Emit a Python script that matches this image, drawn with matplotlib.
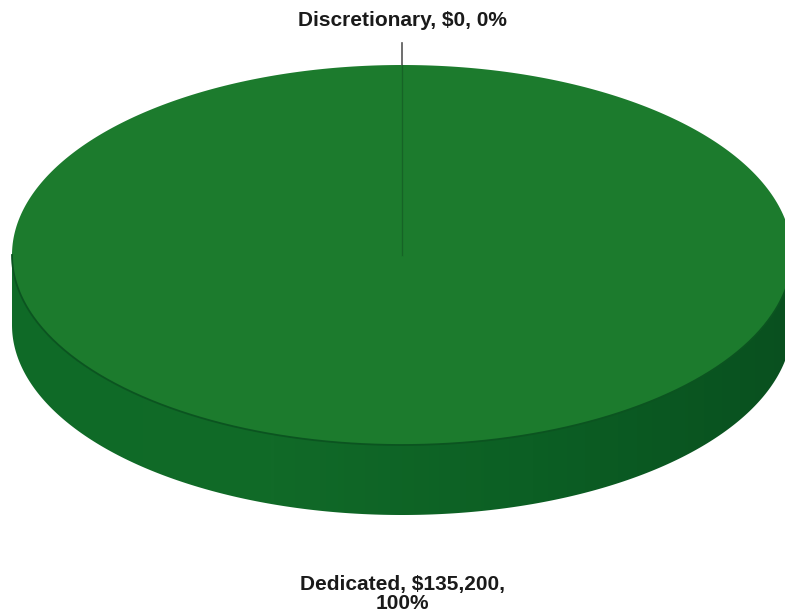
import textwrap
import numpy as np
import matplotlib
matplotlib.use("Agg")
from matplotlib import pyplot as plt
from matplotlib.patches import Polygon
from matplotlib.colors import LinearSegmentedColormap

names = ["Discretionary", "Dedicated"]
values = [0, 135200]
top_colors = ["#1f7d2e", "#1c7b2d"]

# pie geometry in pixels
cx, cy = 402, 255
rx, ry = 390, 190
depth = 70

fig = plt.figure(figsize=(7.85, 6.12), dpi=100)
ax = fig.add_axes([0, 0, 1, 1])
ax.axis("off")

plt.rcParams["font.family"] = ["Liberation Sans", "DejaVu Sans"]

vals = np.array(values, dtype=float)
frac = vals / vals.sum()
# start at 12 o'clock and go clockwise
edges = 90 - 360 * np.concatenate([[0], np.cumsum(frac)])


def pt(a, dy=0):
    r = np.radians(a)
    return cx + rx * np.cos(r), cy - ry * np.sin(r) + dy


side_cmap = LinearSegmentedColormap.from_list(
    "side", ["#0f6a27", "#116a28", "#0c5f24", "#09501f"])
grad = np.linspace(0, 1, 256).reshape(1, -1)

# side band (front half only)
for i in range(len(vals)):
    a0, a1 = edges[i + 1], edges[i]
    lo, hi = max(a0, -180), min(a1, 0)
    if hi <= lo:
        continue
    arc = np.linspace(lo, hi, 300)
    band = [pt(a) for a in arc] + [pt(a, depth) for a in arc[::-1]]
    poly = Polygon(band, closed=True, fc="none", ec="none")
    ax.add_patch(poly)
    im = ax.imshow(grad, cmap=side_cmap, aspect="auto",
                   extent=[cx - rx, cx + rx, cy + ry + depth + 5, cy - 5],
                   zorder=1)
    im.set_clip_path(poly)

# top face
for i in range(len(vals)):
    a0, a1 = edges[i + 1], edges[i]
    if a1 - a0 <= 0:
        continue
    arc = np.linspace(a0, a1, 400)
    pts = [(cx, cy)] + [pt(a) for a in arc]
    ax.add_patch(Polygon(pts, closed=True, fc=top_colors[i], ec="none", zorder=2))

# slice boundary lines and rim line
for a in edges[:-1]:
    x, y = pt(a)
    ax.plot([cx, x], [cy, y], color="#166326", lw=0.8, zorder=3)
rim = np.linspace(-180, 0, 300)
ax.plot([pt(a)[0] for a in rim], [pt(a)[1] for a in rim],
        color="#0b5420", lw=1.3, zorder=3)

# labels
for i in range(len(vals)):
    mid = (edges[i] + edges[i + 1]) / 2
    text = f"{names[i]}, ${values[i]:,.0f}, {frac[i] * 100:.0f}%"
    text = textwrap.fill(text, 22)
    r = np.radians(mid)
    if np.sin(r) >= 0:
        lx, ly = pt(mid)
        ly = ly - 45
        ax.plot([lx, lx], [ly + 23, ly + 45], color="#555555", lw=1.2)
    else:
        lx, ly = pt(mid, depth)
        ly = ly + 79
    ax.text(lx, ly, text, ha="center", va="center", fontsize=15,
            fontweight="bold", color="#1a1a1a", linespacing=1.0)

ax.set_xlim(0, 785)
ax.set_ylim(612, 0)
plt.savefig("out.png", dpi=100)
